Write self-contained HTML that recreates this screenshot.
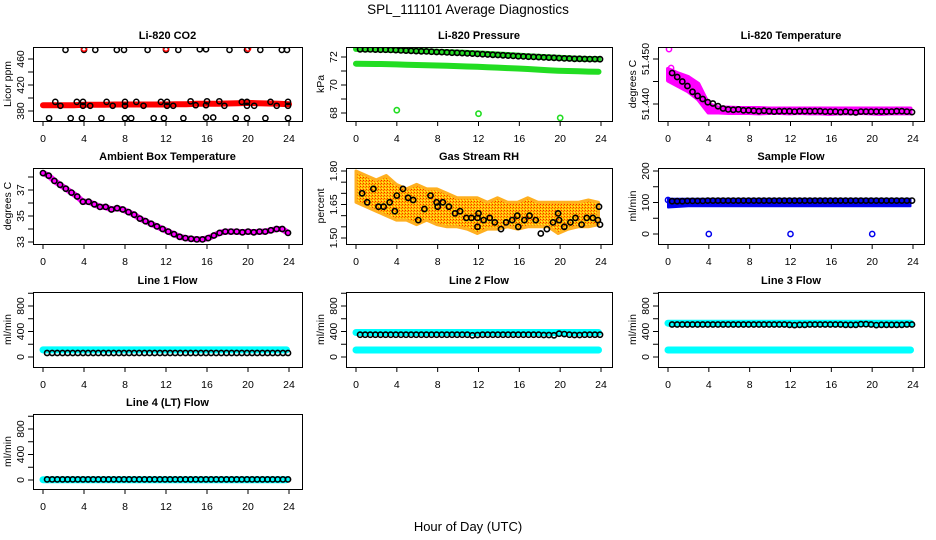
<!DOCTYPE html>
<html><head><meta charset="utf-8">
<style>
html,body{margin:0;padding:0;background:#fff;}
svg{display:block;font-family:"Liberation Sans",Arial,sans-serif;}
</style></head>
<body>
<svg id="chart" width="936" height="540" viewBox="0 0 936 540" xmlns="http://www.w3.org/2000/svg">
<defs>
<pattern id="rhPat" width="3" height="3" patternUnits="userSpaceOnUse">
<rect width="3" height="3" fill="#ffc000"/>
<rect x="0" y="0" width="1" height="1" fill="#ff2000"/>
<rect x="2" y="1" width="1" height="1" fill="#ff6000"/>
<rect x="1" y="2" width="1" height="1" fill="#ffe040"/>
</pattern>
</defs>
<text x="468" y="14" font-size="13.5" text-anchor="middle">SPL_111101  Average Diagnostics</text>
<text x="468" y="531" font-size="13" text-anchor="middle">Hour of Day (UTC)</text>
</svg>
<script>
// ---------------- data ----------------
const xTicks = [0,4,8,12,16,20,24];
const hourly = [0,1,2,3,4,5,6,7,8,9,10,11,12,13,14,15,16,17,18,19,20,21,22,23,24];

// CO2
const co2Red = [389,389,389,389,389.5,389.5,389.5,390,390,390,390,390,390,390.5,390.5,391,391,391,391.5,392,392.5,392,391.5,391,390.5];
const co2BlackHours = [2.2,4.0,5.1,7.2,7.9,10.2,12.0,13.2,15.3,15.9,18.2,19.9,21.2,23.3,23.8,
 0.6,2.7,3.8,5.7,8.0,8.6,10.8,11.8,13.7,15.9,16.6,18.8,19.9,21.7,23.9,
 1.2,3.3,3.9,6.2,8.0,9.1,11.5,12.1,14.4,16.0,17.2,19.4,19.9,22.2,23.9,
 1.7,3.9,4.6,6.8,8.0,9.8,12.1,12.7,14.9,15.9,17.7,19.9,20.6,22.8,23.9];
const co2BlackVals = [474,474,474,474,474,474,474,474,475,475,474,474,474,474,474,
 369,369,369,369,369,369,369,369,369,370,370,369,369,369,369,
 394,394,394,394,394,394,394,394,395,395,395,394,394,394,394,
 388,388,388,388,388,388,388,388,389,389,388,388,388,388,388];
const co2RedHours = [4,12,20];
const co2RedVals = [476,476,476];

// Pressure
const presUpper = [72.58,72.56,72.54,72.52,72.5,72.47,72.44,72.41,72.38,72.35,72.32,72.29,72.26,72.22,72.18,72.14,72.1,72.06,72.02,71.98,71.94,71.91,71.88,71.86,71.85];
const presLower = [71.52,71.51,71.5,71.49,71.47,71.45,71.43,71.41,71.39,71.37,71.35,71.32,71.3,71.27,71.24,71.21,71.18,71.14,71.1,71.06,71.02,71.0,70.98,70.96,70.95];
const presBlack = [72.55,72.54,72.54,72.53,72.52,72.52,72.51,72.49,72.47,72.46,72.44,72.42,72.41,72.4,72.38,72.36,72.35,72.33,72.31,72.3,72.28,72.26,72.24,72.22,72.2,72.18,72.16,72.14,72.12,72.1,72.08,72.06,72.04,72.02,72.01,71.99,71.97,71.96,71.94,71.92,71.9,71.89,71.87,71.87,71.86,71.85,71.85,71.84];
const presOutHours = [4,12,20];
const presOutVals = [68.2,67.95,67.65];

// Li-820 temperature
const tempUpper = [51.4478,51.4468,51.4460,51.4445,51.4400,51.4392,51.4392,51.4391,51.4391,51.4391,51.4390,51.4390,51.4390,51.4390,51.4390,51.4390,51.4390,51.4390,51.4390,51.4390,51.4390,51.4390,51.4390,51.4390,51.4390];
const tempLower = [51.4452,51.4440,51.4428,51.4410,51.4381,51.4381,51.4380,51.4380,51.4380,51.4379,51.4380,51.4380,51.4379,51.4380,51.4379,51.4379,51.4378,51.4379,51.4379,51.4380,51.4379,51.4378,51.4379,51.4379,51.4379];
const tempBlack = [51.4469,51.4460,51.4450,51.4440,51.4427,51.4418,51.4411,51.4404,51.4401,51.4395,51.4390,51.4388,51.4387,51.4388,51.4386,51.4386,51.4385,51.4384,51.4385,51.4384,51.4383,51.4384,51.4384,51.4384,51.4383,51.4384,51.4384,51.4384,51.4384,51.4384,51.4383,51.4383,51.4383,51.4382,51.4383,51.4382,51.4381,51.4383,51.4383,51.4383,51.4383,51.4383,51.4383,51.4383,51.4384,51.4384,51.4383,51.4382];
const tempOutHours = [0.1,0.3];
const tempOutVals = [51.4522,51.4480];

// Ambient box temperature
const ambBlack = [38.3,38.1,37.7,37.4,37.1,36.8,36.5,36.1,36.1,35.9,35.7,35.7,35.5,35.6,35.5,35.3,35.1,34.8,34.6,34.4,34.2,34.0,33.8,33.6,33.4,33.3,33.25,33.2,33.2,33.3,33.5,33.7,33.8,33.8,33.8,33.75,33.8,33.75,33.8,33.8,33.9,34.0,34.0,33.7];

// Gas stream RH
const rhUpper = [1.80,1.78,1.76,1.78,1.74,1.72,1.74,1.72,1.72,1.70,1.68,1.68,1.68,1.66,1.68,1.66,1.66,1.68,1.66,1.66,1.66,1.66,1.66,1.67,1.66];
const rhLower = [1.66,1.64,1.62,1.60,1.58,1.58,1.56,1.58,1.56,1.55,1.55,1.54,1.52,1.54,1.54,1.55,1.54,1.55,1.55,1.55,1.52,1.54,1.55,1.55,1.56];
const rhBlackHours = [0.6,1.1,1.7,2.2,2.7,3.3,3.8,4.0,4.6,5.1,5.6,6.1,6.7,7.3,7.9,8.0,8.5,9.1,9.7,10.2,10.8,11.3,11.9,11.9,12.0,12.5,13.1,13.6,14.2,14.7,15.3,15.8,15.9,16.5,17.0,17.6,18.1,18.7,19.3,19.8,19.9,20.4,21.0,21.5,22.1,22.6,23.2,23.7,23.8,23.9];
const rhBlackVals = [1.70,1.66,1.72,1.64,1.64,1.66,1.62,1.69,1.72,1.68,1.67,1.58,1.63,1.69,1.66,1.64,1.66,1.64,1.61,1.62,1.59,1.59,1.59,1.55,1.61,1.58,1.59,1.57,1.54,1.57,1.58,1.60,1.55,1.58,1.60,1.58,1.52,1.54,1.57,1.61,1.58,1.55,1.57,1.59,1.56,1.59,1.59,1.58,1.64,1.56];

// Sample flow
const sfUpper = [112,112,112,112,112,112,112,112,112,112,112,112,112,112,112,112,112,112,112,112,112,112,112,112,112];
const sfLower = [84,86,88,88,88,88,88,88,88,88,88,88,88,88,88,88,88,88,88,88,88,88,88,88,88];
const sfBlack = [104,104,104,105,105,105,105,106,106,106,106,106,106,106,106,106,106,106,106,106,106,106,106,106,106,106,106,106,106,106,106,106,106,106,106,106,106,106,106,106,106,106,106,106,106,106,106,106];
const sfOutHours = [0,4,12,20];
const sfOutVals = [108,0,0,0];

// Line flows (cyan bands + black points)
const l1Cyan = [112,112,112,112,112,112,112,112,112,112,112,112,112,112,112,112,112,112,112,112,112,112,112,112,112];
const l1Black = [62,62,62,62,62,62,62,62,62,62,62,62,62,62,62,62,62,62,62,62,62,62,62,62,62,62,62,62,62,62,62,62,62,62,62,62,62,62,62,62,62,62,62,62,62,62,62,62];
const l2CyanHi = [385,385,385,385,385,385,385,385,385,385,385,385,385,385,385,385,385,385,385,385,385,385,385,385,385];
const l2CyanLo = [110,110,110,110,110,110,110,110,110,110,110,110,110,110,110,110,110,110,110,110,110,110,110,110,110];
const l2Black = [350,350,350,350,350,350,350,350,350,350,350,350,350,350,350,350,350,350,350,350,350,350,340,345,350,350,350,350,350,350,350,350,350,350,350,350,345,345,340,365,360,350,345,345,350,350,350,350];
const l3CyanHi = [530,530,530,530,530,530,530,530,530,530,530,530,530,530,530,530,530,530,530,530,530,530,530,530,530];
const l3CyanLo = [110,110,110,110,110,110,110,110,110,110,110,110,110,110,110,110,110,110,110,110,110,110,110,110,110];
const l3Black = [510,510,510,510,510,510,510,510,510,510,510,510,510,510,510,510,510,510,510,510,510,510,510,505,500,505,505,510,510,510,510,510,510,510,505,505,505,515,515,510,500,505,505,505,505,505,510,510];
const l4Cyan = [5,5,5,5,5,5,5,5,5,5,5,5,5,5,5,5,5,5,5,5,5,5,5,5,5];
const l4Black = [10,10,10,10,10,10,10,10,10,10,10,10,10,10,10,10,10,10,10,10,10,10,10,10,10,10,10,10,10,10,10,10,10,10,10,10,10,10,10,10,10,10,10,10,10,10,10,10];

// ---------------- drawing ----------------
const NS = "http://www.w3.org/2000/svg";
const svg = document.getElementById("chart");
function mk(tag, attrs, parent){
  const e = document.createElementNS(NS, tag);
  for (const k in attrs) e.setAttribute(k, attrs[k]);
  (parent||svg).appendChild(e);
  return e;
}
const cols = [{L:33,R:302,x0:43,x24:289},{L:346,R:612,x0:356,x24:601},{L:658,R:924,x0:668,x24:913}];
const rows = [{T:47,B:121},{T:168,B:244},{T:292,B:367},{T:414,B:489}];

function panel(name, title, c, r, v1, y1, v2, y2, yTicks, yLabels, yTitle){
  const C = cols[c], R = rows[r];
  const g = mk("g", {});
  
  
  const sx = h => C.x0 + (h/24)*(C.x24-C.x0);
  const sy = v => y1 + (v-v1)*(y2-y1)/(v2-v1);
  const clipId = "clip-"+name;
  const cp = mk("clipPath", {id:clipId}, g);
  mk("rect", {x:C.L, y:R.T, width:C.R-C.L, height:R.B-R.T}, cp);
  const plot = mk("g", {"clip-path":"url(#"+clipId+")"}, g);
  
  
  const t = mk("text", {x:(C.L+C.R)/2, y:R.T-8, "font-size":11, "font-weight":"bold", "text-anchor":"middle"}, g);
  
  
  t.textContent = title;
  const xa = mk("g", {stroke:"#000","stroke-width":1}, g);
  
  
  mk("line", {x1:sx(0), x2:sx(24), y1:R.B+0.5, y2:R.B+0.5}, xa);
  xTicks.forEach(h=>{
    mk("line", {x1:sx(h), x2:sx(h), y1:R.B, y2:R.B+5}, xa);
    const tl = mk("text", {x:sx(h), y:R.B+21, "font-size":10.5, "text-anchor":"middle", stroke:"none"}, xa);
    
    
    tl.textContent = h;
  });
  const ya = mk("g", {stroke:"#000","stroke-width":1}, g);
  
  
  mk("line", {x1:C.L+0.5, x2:C.L+0.5, y1:sy(yTicks[0]), y2:sy(yTicks[yTicks.length-1])}, ya);
  yTicks.forEach(v=>{ mk("line", {x1:C.L-5, x2:C.L, y1:sy(v), y2:sy(v)}, ya); });
  yLabels.forEach(v=>{
    const yy = sy(parseFloat(v));
    const tl = mk("text", {x:0, y:0, transform:"translate("+(C.L-9)+","+yy+") rotate(-90)", "font-size":10.5, "text-anchor":"middle", stroke:"none"}, ya);
    
    
    tl.textContent = v;
  });
  const yt = mk("text", {x:0, y:0, transform:"translate("+(C.L-22)+","+((R.T+R.B)/2)+") rotate(-90)", "font-size":10.5, "text-anchor":"middle"}, g);
  
  
  yt.textContent = yTitle;
  const bx = mk("rect", {x:C.L+0.5, y:R.T+0.5, width:C.R-C.L, height:R.B-R.T, fill:"none", stroke:"#000", "stroke-width":1}, g);
  
  
  return {plot, sx, sy};
}
function band(P, name, hours, vals, color, w){
  const pts = hours.map((h,i)=>P.sx(h).toFixed(1)+","+P.sy(vals[i]).toFixed(1)).join(" ");
  const e = mk("polyline", {points:pts, fill:"none", stroke:color, "stroke-width":w, "stroke-linejoin":"round", "stroke-linecap":"round"}, P.plot);
  
  
}
function area(P, name, hours, lo, hi, color, w, fill){
  const up = hours.map((h,i)=>P.sx(h).toFixed(1)+","+P.sy(hi[i]).toFixed(1));
  const dn = hours.map((h,i)=>P.sx(h).toFixed(1)+","+P.sy(lo[i]).toFixed(1)).reverse();
  const e = mk("polygon", {points:up.concat(dn).join(" "), fill:fill||color, stroke:color, "stroke-width":w, "stroke-linejoin":"round"}, P.plot);
  
  
}
function pts(P, name, hours, vals, color, r, sw){
  hours.forEach((h,i)=>{
    const e = mk("circle", {cx:P.sx(h).toFixed(1), cy:P.sy(vals[i]).toFixed(1), r:r||2.6, fill:"none", stroke:color, "stroke-width":sw||1.5}, P.plot);
    
    
  });
}
function seqHours(n){ const a=[]; for(let i=0;i<n;i++) a.push(0.4 + i*(23.5/(n-1))); return a; }
const hourlyBand = hourly.map(h=>h*0.99);

let P = panel("co2-panel","Li-820 CO2",0,0,460,59,380,111,[380,400,420,440,460],["380","420","460"],"Licor ppm");
band(P,"co2-red-series",hourly,co2Red,"#ff0000",6);
pts(P,"co2-point",co2BlackHours,co2BlackVals,"#000");
pts(P,"co2-red-point",co2RedHours,co2RedVals,"#ff0000");

P = panel("pressure-panel","Li-820 Pressure",1,0,72,57,68,113,[68,69,70,71,72],["68","70","72"],"kPa");
band(P,"pressure-upper-green",hourlyBand,presUpper,"#22dd22",6);
band(P,"pressure-lower-green",hourlyBand,presLower,"#22dd22",6);
pts(P,"pressure-point",seqHours(presBlack.length),presBlack,"#000",2.6,1.6);
pts(P,"pressure-outlier",presOutHours,presOutVals,"#22dd22",2.6,1.6);

P = panel("temperature-panel","Li-820 Temperature",2,0,51.45,59,51.44,104,[51.440,51.445,51.450],["51.440","51.450"],"degrees C");
area(P,"temperature-magenta-cloud",hourlyBand,tempLower,tempUpper,"#ff00ff",4);
pts(P,"temperature-outlier",tempOutHours,tempOutVals,"#ff00ff");
pts(P,"temperature-point",seqHours(tempBlack.length),tempBlack,"#000",2.6,1.6);

P = panel("ambient-panel","Ambient Box Temperature",0,1,37,190,33,242,[33,34,35,36,37,38],["33","35","37"],"degrees C");
const ambH = ambBlack.map((v,i)=>i*(23.9/(ambBlack.length-1)));
band(P,"ambient-magenta-series",ambH,ambBlack,"#ff00ff",6);
pts(P,"ambient-point",ambH,ambBlack,"#000",2.6,1.6);

P = panel("rh-panel","Gas Stream RH",1,1,1.80,171,1.50,238,[1.50,1.55,1.60,1.65,1.70,1.75,1.80],["1.50","1.65","1.80"],"percent");
area(P,"rh-orange-cloud",hourlyBand,rhLower,rhUpper,"#ffb020",3,"url(#rhPat)");
pts(P,"rh-point",rhBlackHours,rhBlackVals,"#000",2.6,1.6);

P = panel("sample-flow-panel","Sample Flow",2,1,200,171,0,234,[0,50,100,150,200],["0","100","200"],"ml/min");
area(P,"sample-flow-blue-band",hourlyBand,sfLower,sfUpper,"#0000ee",2);
pts(P,"sample-flow-outlier",sfOutHours,sfOutVals,"#0000ee");
pts(P,"sample-flow-point",seqHours(sfBlack.length),sfBlack,"#000",2.6,1.6);

const fT = [0,200,400,600,800,1000], fL = ["0","400","800"];
P = panel("line1-flow-panel","Line 1 Flow",0,2,800,306,0,357,fT,fL,"ml/min");
band(P,"line1-cyan-series",hourlyBand,l1Cyan,"#00ffff",7);
pts(P,"line1-point",seqHours(l1Black.length),l1Black,"#000",2.6,1.6);

P = panel("line2-flow-panel","Line 2 Flow",1,2,800,306,0,357,fT,fL,"ml/min");
band(P,"line2-cyan-upper",hourlyBand,l2CyanHi,"#00ffff",7);
band(P,"line2-cyan-lower",hourlyBand,l2CyanLo,"#00ffff",7);
pts(P,"line2-point",seqHours(l2Black.length),l2Black,"#000",2.6,1.6);

P = panel("line3-flow-panel","Line 3 Flow",2,2,800,306,0,357,fT,fL,"ml/min");
band(P,"line3-cyan-upper",hourlyBand,l3CyanHi,"#00ffff",7);
band(P,"line3-cyan-lower",hourlyBand,l3CyanLo,"#00ffff",7);
pts(P,"line3-point",seqHours(l3Black.length),l3Black,"#000",2.6,1.6);

P = panel("line4-flow-panel","Line 4 (LT) Flow",0,3,800,429,0,480,fT,fL,"ml/min");
band(P,"line4-cyan-series",hourlyBand,l4Cyan,"#00ffff",7);
pts(P,"line4-point",seqHours(l4Black.length),l4Black,"#000",2.6,1.6);
</script>
</body></html>
